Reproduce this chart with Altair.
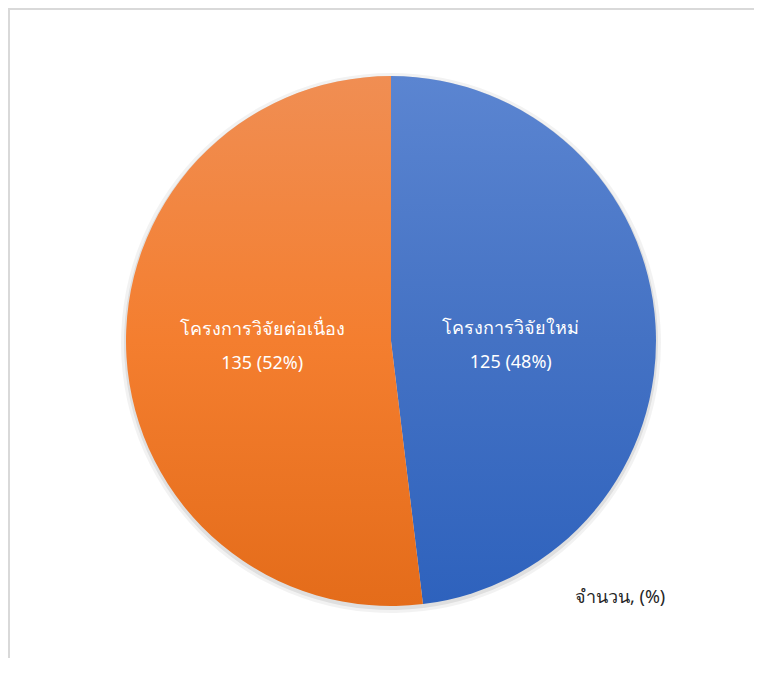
import math
import altair as alt
import pandas as pd

# ---- data ----
categories = ["โครงการวิจัยใหม่", "โครงการวิจัยต่อเนื่อง"]
values = [125, 135]
percents = [48, 52]
footnote = "จำนวน, (%)"

total = sum(values)
df = pd.DataFrame({
    "category": categories,
    "value": values,
    "order": list(range(len(categories))),
    "label": [f"{c}\n{v} ({p}%)" for c, v, p in zip(categories, values, percents)],
})

W, H = 746, 650
CX, CY = 383, 333
R = 265
FONT = "Noto Sans"

theta_scale = alt.Scale(domain=[0, total], range=[0, 2 * math.pi])

base = (
    alt.Chart(df)
    .transform_stack(stack="value", groupby=[], as_=["v0", "v1"],
                     sort=[alt.SortField("order", order="ascending")])
    .transform_calculate(mid="(datum.v0 + datum.v1) / 2")
)

def arc_enc(ch, dy=0):
    return ch.encode(
        theta=alt.Theta("v0:Q", scale=theta_scale),
        theta2="v1:Q",
        x=alt.value(CX),
        y=alt.value(CY + dy),
    )

def grad(c0, c1, c2):
    return alt.Gradient(
        gradient="linear", x1=0, y1=0, x2=0, y2=1,
        stops=[alt.GradientStop(color=c0, offset=0),
               alt.GradientStop(color=c1, offset=0.5),
               alt.GradientStop(color=c2, offset=1)],
    )

shadow1 = arc_enc(base.mark_arc(radius=R + 5, color="#000000", opacity=0.05), dy=2)
shadow2 = arc_enc(base.mark_arc(radius=R + 2, color="#000000", opacity=0.08), dy=2)

blue = arc_enc(
    base.transform_filter(alt.datum.order == 0)
    .mark_arc(radius=R, color=grad("#5B85D1", "#4472C4", "#2E62BD"))
)
orange = arc_enc(
    base.transform_filter(alt.datum.order == 1)
    .mark_arc(radius=R, color=grad("#F08E53", "#F47E2F", "#E46C1A"))
)

def label_layer(idx, radius, dy):
    return base.transform_filter(alt.datum.order == idx).mark_text(
        radius=radius, dy=dy, color="white", fontSize=18, font=FONT,
        lineBreak="\n", lineHeight=34, align="center", baseline="middle",
    ).encode(
        theta=alt.Theta("mid:Q", scale=theta_scale),
        text="label:N",
        x=alt.value(CX),
        y=alt.value(CY),
    )

lab_blue = label_layer(0, 120, -5)
lab_orange = label_layer(1, 129, -19)

foot = alt.Chart(pd.DataFrame({"t": [footnote]})).mark_text(
    align="left", baseline="middle", fontSize=18, font=FONT, color="#262626"
).encode(text="t:N", x=alt.value(567), y=alt.value(590))

frame_top = alt.Chart(pd.DataFrame({"a": [0]})).mark_rule(
    color="#D9D9D9", strokeWidth=2
).encode(x=alt.value(0), x2=alt.value(W), y=alt.value(1))
frame_left = alt.Chart(pd.DataFrame({"a": [0]})).mark_rule(
    color="#D9D9D9", strokeWidth=2
).encode(x=alt.value(1), y=alt.value(0), y2=alt.value(H))

chart = alt.layer(
    frame_top, frame_left, shadow1, shadow2, blue, orange, lab_blue, lab_orange, foot
).properties(
    width=W, height=H, padding=0, autosize=alt.AutoSizeParams(type="none")
).configure_view(stroke=None)

chart.save("out.html", embed_options={"renderer": "svg", "actions": False})
